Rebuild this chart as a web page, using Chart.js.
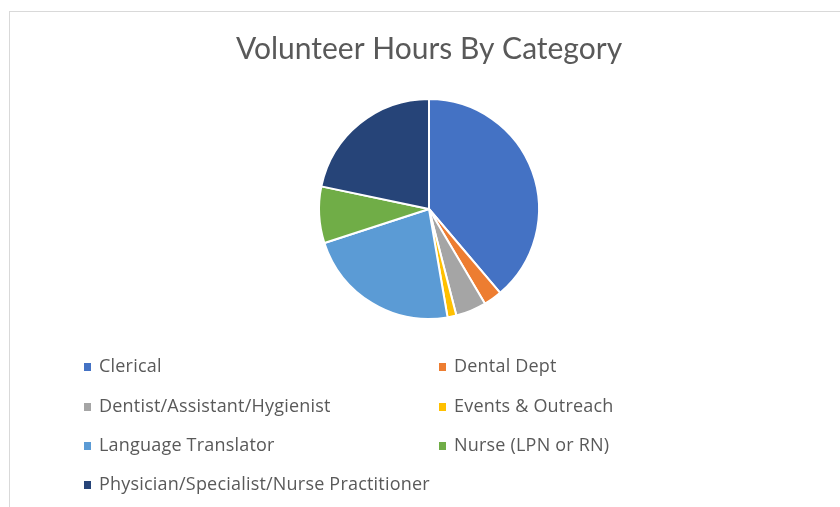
<!DOCTYPE html>
<html>
<head>
<meta charset="utf-8">
<script src="https://cdn.jsdelivr.net/npm/chart.js@4.4.1/dist/chart.umd.min.js"></script>
<style>
    html, body { margin: 0; padding: 0; background: #fff; }
    #wrap { position: relative; width: 840px; height: 507px; overflow: hidden; }
    #frame { position: absolute; left: 9px; top: 11px; width: 900px; height: 600px; border: 1px solid #d9d9d9; box-sizing: border-box; }
    #chart { position: absolute; left: 0; top: 0; }
    #legend { position: absolute; left: 0; top: 0; font-family: "Open Sans", sans-serif; font-size: 18px; letter-spacing: 0.2px; color: #595959; }
    .item { position: absolute; white-space: nowrap; line-height: 24px; }
    .box { position: absolute; width: 7px; height: 8px; top: 10px; left: 0; }
    .txt { position: absolute; left: 15px; top: 0; }
</style>
</head>
<body>
<div id="wrap">
    <div id="frame"></div>
    <canvas id="chart" width="840" height="507"></canvas>
    <div id="legend"></div>
</div>
<script>
const categories = ['Clerical', 'Dental Dept', 'Dentist/Assistant/Hygienist', 'Events & Outreach',
    'Language Translator', 'Nurse (LPN or RN)', 'Physician/Specialist/Nurse Practitioner'];
const hours = [388, 27, 45, 13, 227, 83, 217];
const colors = ['#4472C4', '#ED7D31', '#A5A5A5', '#FFC000', '#5B9BD5', '#70AD47', '#264478'];

document.addEventListener('DOMContentLoaded', function () {
    const ctx = document.getElementById('chart').getContext('2d');
    const chart = new Chart(ctx, {
        type: 'pie',
        data: {
            labels: categories,
            datasets: [{
                data: hours,
                backgroundColor: colors,
                borderColor: '#ffffff',
                borderWidth: 2,
                hoverOffset: 0,
                radius: 110
            }]
        },
        options: {
            responsive: false,
            animation: false,
            layout: { padding: { left: 18, right: 0, top: 0, bottom: 179 } },
            plugins: {
                legend: { display: false },
                tooltip: { enabled: false },
                title: {
                    display: true,
                    text: 'Volunteer Hours By Category',
                    color: '#595959',
                    font: { family: 'Lato', size: 30, weight: 'normal', lineHeight: 1.2 },
                    padding: { top: 31, bottom: 23 }
                }
            }
        }
    });

    // legend in two columns, built from the chart data
    const legend = document.getElementById('legend');
    const colX = [84, 439];
    const rowY = [353, 393, 432, 471];
    chart.data.labels.forEach(function (label, i) {
        const item = document.createElement('div');
        item.className = 'item';
        item.style.left = colX[i % 2] + 'px';
        item.style.top = rowY[Math.floor(i / 2)] + 'px';
        const box = document.createElement('span');
        box.className = 'box';
        box.style.background = chart.data.datasets[0].backgroundColor[i];
        const txt = document.createElement('span');
        txt.className = 'txt';
        txt.textContent = label;
        item.appendChild(box);
        item.appendChild(txt);
        legend.appendChild(item);
    });
});
</script>
</body>
</html>
